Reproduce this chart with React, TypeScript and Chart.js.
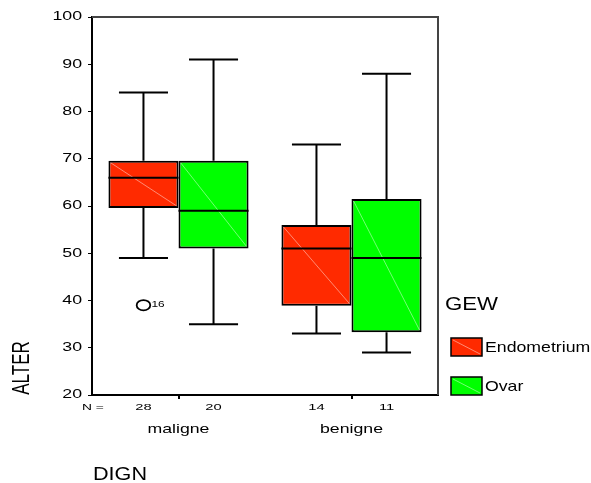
import React, { useEffect, useRef } from 'react';
import { Chart, registerables } from 'chart.js';

Chart.register(...registerables);

// ---- data ----
const categories = ['maligne', 'benigne'];
const seriesNames = ['Endometrium', 'Ovar'];
const seriesColors = ['#FF2A00', '#00FF00'];

const endoMin = [49, 33];
const endoQ1 = [59.6, 38.9];
const endoMedian = [66, 51];
const endoQ3 = [69.6, 56];
const endoMax = [84, 73];
const endoN = [28, 14];
const endoOutliers = [[{ value: 39, label: '16' }], []];

const ovarMin = [35, 29];
const ovarQ1 = [51, 33.3];
const ovarMedian = [59, 49];
const ovarQ3 = [69.6, 61.5];
const ovarMax = [91, 88];
const ovarN = [20, 11];
const ovarOutliers = [[], []];

const yTicks = [20, 30, 40, 50, 60, 70, 80, 90, 100];

const FONT = "'Liberation Sans', Arial, sans-serif";

const stats = [
  { min: endoMin, q1: endoQ1, med: endoMedian, q3: endoQ3, max: endoMax, n: endoN, out: endoOutliers },
  { min: ovarMin, q1: ovarQ1, med: ovarMedian, q3: ovarQ3, max: ovarMax, n: ovarN, out: ovarOutliers },
];

// draw text horizontally stretched by sx (the reference's wide SPSS lettering)
function wideText(ctx: any, text: string, x: number, y: number, size: number, sx: number, align: string) {
  ctx.save();
  ctx.font = `${size}px ${FONT}`;
  ctx.textBaseline = 'middle';
  ctx.textAlign = align;
  ctx.translate(x, y);
  ctx.scale(sx, 1);
  ctx.fillText(text, 0, 0);
  ctx.restore();
}

const boxPlugin = {
  id: 'boxplot',
  afterDatasetsDraw(chart: any) {
    const ctx = chart.ctx;
    const y = chart.scales.y;
    ctx.save();
    stats.forEach((s, d) => {
      const meta = chart.getDatasetMeta(d);
      meta.data.forEach((el: any, i: number) => {
        const { x, width } = el.getProps(['x', 'width'], true);
        const left = x - width / 2;
        const right = x + width / 2;
        const top = y.getPixelForValue(s.q3[i]);
        const bot = y.getPixelForValue(s.q1[i]);
        // faint diagonal
        ctx.strokeStyle = 'rgba(255,255,255,0.45)';
        ctx.lineWidth = 1;
        ctx.beginPath();
        ctx.moveTo(left + 2, top + 2);
        ctx.lineTo(right - 2, bot - 2);
        ctx.stroke();
        ctx.strokeStyle = '#000';
        ctx.lineWidth = 2;
        // median
        const my = y.getPixelForValue(s.med[i]);
        ctx.beginPath();
        ctx.moveTo(left, my);
        ctx.lineTo(right, my);
        ctx.stroke();
        // whiskers
        const capW = width * 0.35;
        const yMax = y.getPixelForValue(s.max[i]);
        const yMin = y.getPixelForValue(s.min[i]);
        ctx.beginPath();
        ctx.moveTo(x, top);
        ctx.lineTo(x, yMax);
        ctx.moveTo(x - capW, yMax);
        ctx.lineTo(x + capW, yMax);
        ctx.moveTo(x, bot);
        ctx.lineTo(x, yMin);
        ctx.moveTo(x - capW, yMin);
        ctx.lineTo(x + capW, yMin);
        ctx.stroke();
        // outliers
        s.out[i].forEach((o: any) => {
          const oy = y.getPixelForValue(o.value);
          ctx.lineWidth = 1.8;
          ctx.beginPath();
          ctx.ellipse(x, oy, 6.8, 5.2, 0, 0, Math.PI * 2);
          ctx.stroke();
          ctx.fillStyle = '#000';
          wideText(ctx, o.label, x + 8, oy - 1, 9.5, 1.25, 'left');
        });
      });
    });
    ctx.restore();
  },
  afterDraw(chart: any) {
    const ctx = chart.ctx;
    const a = chart.chartArea;
    const xs = chart.scales.x;
    const ys = chart.scales.y;
    ctx.save();
    // top & right frame
    ctx.strokeStyle = '#444';
    ctx.lineWidth = 2;
    ctx.beginPath();
    ctx.moveTo(a.left, a.top);
    ctx.lineTo(a.right, a.top);
    ctx.lineTo(a.right, a.bottom);
    ctx.stroke();

    ctx.fillStyle = '#000';
    // y tick labels (from the y scale's ticks)
    ys.ticks.forEach((t: any) => {
      wideText(ctx, String(t.value), a.left - 10, ys.getPixelForValue(t.value), 12.5, 1.42, 'right');
    });
    // x category labels (from the x scale)
    categories.forEach((c, i) => {
      wideText(ctx, c, xs.getPixelForValue(i), a.bottom + 34, 13, 1.36, 'center');
    });

    // N row
    wideText(ctx, 'N =', a.left - 10, a.bottom + 12.5, 9.5, 1.45, 'left');
    stats.forEach((s, d) => {
      const meta = chart.getDatasetMeta(d);
      meta.data.forEach((el: any, i: number) => {
        wideText(ctx, String(s.n[i]), el.x, a.bottom + 12.5, 9.5, 1.55, 'center');
      });
    });

    // x title
    wideText(ctx, 'DIGN', a.left + 1, 475, 18, 1.2, 'left');

    // y title (rotated, stretched)
    ctx.save();
    ctx.translate(22.5, 368);
    ctx.rotate(-Math.PI / 2);
    ctx.scale(1, 1.45);
    ctx.font = `17px ${FONT}`;
    ctx.textAlign = 'center';
    ctx.textBaseline = 'middle';
    ctx.fillText('ALTER', 0, 0);
    ctx.restore();

    // legend
    wideText(ctx, 'GEW', 445, 305, 18.5, 1.2, 'left');
    const ly = [347, 386];
    seriesNames.forEach((name, k) => {
      const bx = 451, bw = 31, bh = 18, by = ly[k] - bh / 2;
      ctx.fillStyle = seriesColors[k];
      ctx.fillRect(bx, by, bw, bh);
      ctx.strokeStyle = 'rgba(255,255,255,0.45)';
      ctx.lineWidth = 1;
      ctx.beginPath();
      ctx.moveTo(bx + 2, by + 2);
      ctx.lineTo(bx + bw - 2, by + bh - 2);
      ctx.stroke();
      ctx.strokeStyle = '#000';
      ctx.lineWidth = 1.5;
      ctx.strokeRect(bx, by, bw, bh);
      ctx.fillStyle = '#000';
      wideText(ctx, name, 485, ly[k] + 1, 15, 1.18, 'left');
    });
    ctx.restore();
  },
};

export default function App() {
  const ref = useRef<HTMLCanvasElement | null>(null);
  useEffect(() => {
    if (!ref.current) return;
    const chart = new Chart(ref.current, {
      type: 'bar',
      data: {
        labels: categories,
        datasets: stats.map((s, d) => ({
          label: seriesNames[d],
          data: s.q1.map((q, i) => [q, s.q3[i]]),
          backgroundColor: seriesColors[d],
          borderColor: '#000',
          borderWidth: 2,
          borderSkipped: false,
          categoryPercentage: 0.81,
          barPercentage: 1,
        })),
      },
      options: {
        animation: false,
        responsive: false,
        layout: { padding: { left: 0, top: 17, right: 153, bottom: 0 } },
        plugins: { legend: { display: false }, tooltip: { enabled: false }, title: { display: false } },
        scales: {
          x: {
            afterFit: (s: any) => { s.height = 88; },
            ticks: { display: false },
            grid: { offset: false, drawOnChartArea: false, drawTicks: true, tickLength: 4, color: '#000', lineWidth: 2 },
            border: { color: '#000', width: 2 },
          },
          y: {
            min: 20,
            max: 100,
            afterFit: (s: any) => { s.width = 92; },
            afterBuildTicks: (s: any) => { s.ticks = yTicks.map((v) => ({ value: v })); },
            ticks: { display: false },
            grid: { drawOnChartArea: false, drawTicks: true, tickLength: 4, color: '#000', lineWidth: 1 },
            border: { color: '#000', width: 2 },
          },
        },
      },
      plugins: [boxPlugin],
    });
    return () => chart.destroy();
  }, []);
  return (
    <div style={{ position: 'absolute', left: 0, top: 0, width: 591, height: 483, background: '#fff' }}>
      <canvas ref={ref} width={591} height={483} style={{ display: 'block' }} />
    </div>
  );
}
